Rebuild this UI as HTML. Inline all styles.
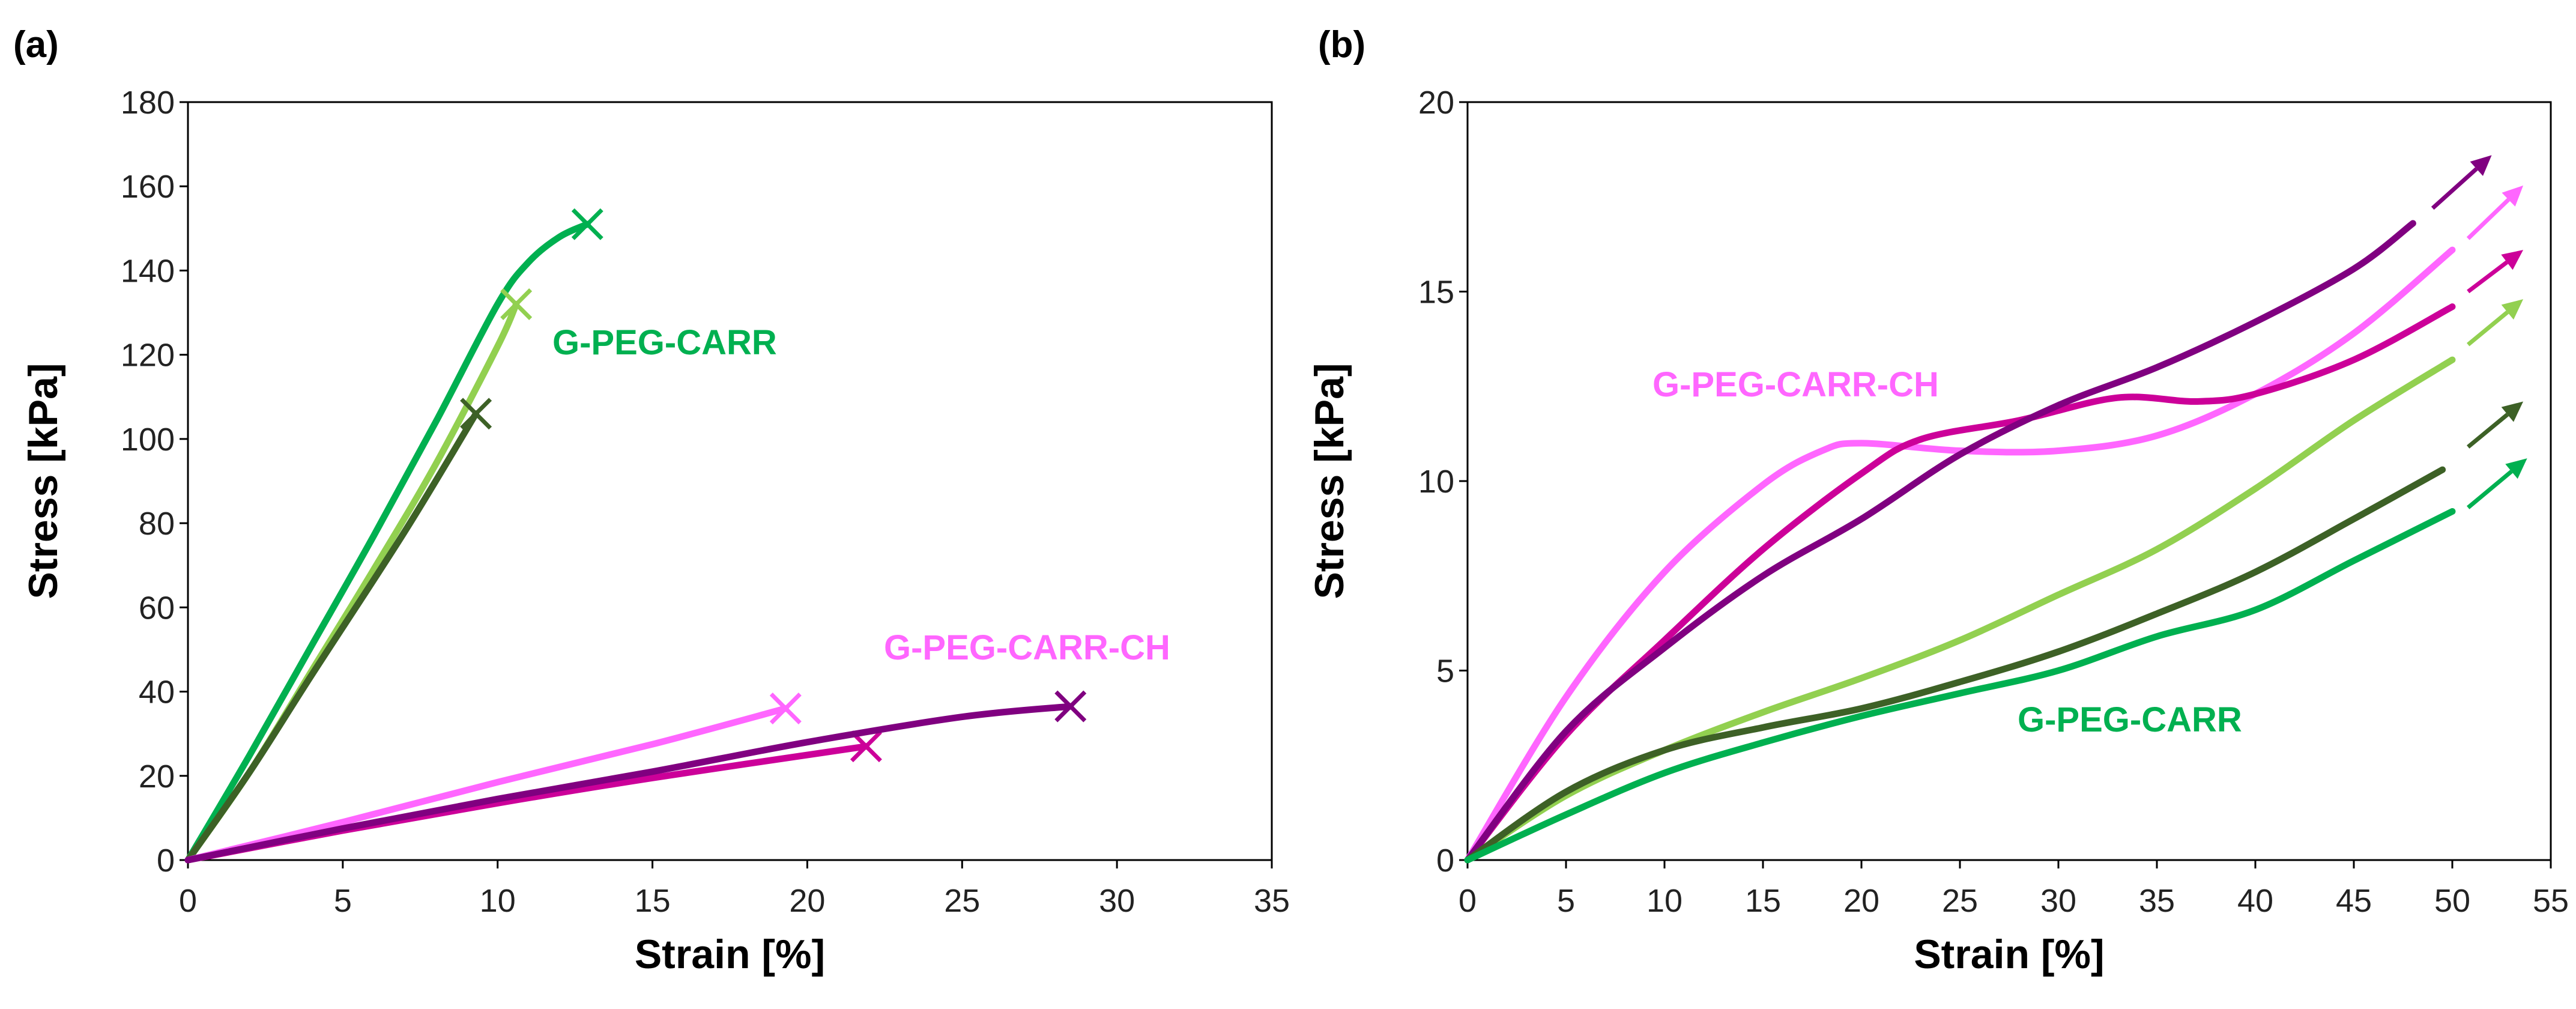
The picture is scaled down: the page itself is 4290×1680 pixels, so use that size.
<!DOCTYPE html>
<html><head><meta charset="utf-8"><style>
html,body{margin:0;padding:0;background:#fff;}
svg{display:block;font-family:"Liberation Sans",Arial,sans-serif;}
</style></head><body>
<svg id="fig" width="4290" height="1680" viewBox="0 0 4290 1680"></svg>
<script>
// ---- Panel (a) data ----
const aXTicks = [0,5,10,15,20,25,30,35];
const aYTicks = [0,20,40,60,80,100,120,140,160,180];
const aGreenX = [0,2,4,6,8,10,11,12,12.9];
const aGreenY = [0,25,51,77,104,132,142,148,151];
const aLightGreenX = [0,2,4,6,8,10,10.6];
const aLightGreenY = [0,21,45,69,94,122,132];
const aDarkGreenX = [0,2,4,7,9.3];
const aDarkGreenY = [0,21,44,78,106];
const aPinkX = [0,5,10,15,19.3];
const aPinkY = [0,9,18.5,27.5,36];
const aMagentaX = [0,5,10,15,21.9];
const aMagentaY = [0,7,13.5,19.5,27];
const aPurpleX = [0,5,10,15,20,25,28.5];
const aPurpleY = [0,7.5,14.5,21,28,34,36.5];
// ---- Panel (b) data ----
const bXTicks = [0,5,10,15,20,25,30,35,40,45,50,55];
const bYTicks = [0,5,10,15,20];
const bPinkX = [0,5,10,15,18,20,25,30,35,40,45,50];
const bPinkY = [0,4.3,7.6,9.9,10.8,11,10.8,10.8,11.2,12.3,13.9,16.1];
const bMagentaX = [0,5,10,15,20,23,28,33,37,40,45,50];
const bMagentaY = [0,3.3,5.8,8.2,10.2,11.1,11.6,12.2,12.1,12.3,13.2,14.6];
const bPurpleX = [0,5,10,15,20,25,30,35,40,45,48];
const bPurpleY = [0,3.4,5.6,7.5,9,10.7,12,13,14.2,15.6,16.8];
const bLightGreenX = [0,5,10,15,20,25,30,35,40,45,50];
const bLightGreenY = [0,1.7,2.9,3.9,4.8,5.8,7,8.2,9.8,11.6,13.2];
const bDarkGreenX = [0,5,10,15,20,25,30,35,40,45,49.5];
const bDarkGreenY = [0,1.8,2.9,3.5,4,4.7,5.5,6.5,7.6,9,10.3];
const bGreenX = [0,5,10,15,20,25,30,35,40,45,50];
const bGreenY = [0,1.2,2.3,3.1,3.8,4.4,5,5.9,6.6,7.9,9.2];
const bArrowX0 = [49,50.8,50.8,50.8,50.8,50.8];
const bArrowY0 = [17.2,16.4,15.0,13.6,10.9,9.3];
const bArrowX1 = [52,53.6,53.6,53.6,53.6,53.8];
const bArrowY1 = [18.6,17.8,16.1,14.8,12.1,10.6];

const C = {green:'#00b050', light:'#92d050', dark:'#3d6126', pink:'#ff66ff', mag:'#cc0099', purple:'#800080'};
const NS='http://www.w3.org/2000/svg';
const svg=document.getElementById('fig');
function mk(tag, attrs, parent){const e=document.createElementNS(NS,tag);for(const k in attrs)e.setAttribute(k,attrs[k]);(parent||svg).appendChild(e);return e;}
function smooth(pts){
  let d='M'+pts[0][0].toFixed(1)+' '+pts[0][1].toFixed(1);
  for(let i=0;i<pts.length-1;i++){
    const p0=pts[Math.max(0,i-1)],p1=pts[i],p2=pts[i+1],p3=pts[Math.min(pts.length-1,i+2)];
    const c1=[p1[0]+(p2[0]-p0[0])/6,p1[1]+(p2[1]-p0[1])/6];
    const c2=[p2[0]-(p3[0]-p1[0])/6,p2[1]-(p3[1]-p1[1])/6];
    d+=` C${c1[0].toFixed(1)} ${c1[1].toFixed(1)} ${c2[0].toFixed(1)} ${c2[1].toFixed(1)} ${p2[0].toFixed(1)} ${p2[1].toFixed(1)}`;
  }
  return d;
}

function panel(P){
  const g=mk('g',{});
  
  
  const sx=v=>P.L+(v-P.xmin)/(P.xmax-P.xmin)*(P.R-P.L);
  const sy=v=>P.B-(v-P.ymin)/(P.ymax-P.ymin)*(P.B-P.T);
  const frame=mk('rect',{x:P.L,y:P.T,width:P.R-P.L,height:P.B-P.T,fill:'none',stroke:'#000','stroke-width':3},g);
  
  
  P.xt.forEach(t=>{
    mk('line',{x1:sx(t),x2:sx(t),y1:P.B,y2:P.B+14,stroke:'#000','stroke-width':3},g);
    const tx=mk('text',{x:sx(t),y:P.B+86,'font-size':54,'text-anchor':'middle',fill:'#222'},g);
    tx.textContent=t;
    
    
  });
  P.yt.forEach(t=>{
    mk('line',{x1:P.L-14,x2:P.L,y1:sy(t),y2:sy(t),stroke:'#000','stroke-width':3},g);
    const tx=mk('text',{x:P.L-22,y:sy(t)+19,'font-size':54,'text-anchor':'end',fill:'#222'},g);
    tx.textContent=t;
    
    
  });
  const xt=mk('text',{x:(P.L+P.R)/2,y:1612,'font-size':68,'font-weight':'bold','text-anchor':'middle'},g);
  xt.textContent='Strain [%]';
  
  
  const yt=mk('text',{x:0,y:0,'font-size':68,'font-weight':'bold','text-anchor':'middle',transform:`translate(${P.ytx},${(P.T+P.B)/2}) rotate(-90)`},g);
  yt.textContent='Stress [kPa]';
  
  
  const pl=mk('text',{x:P.labx,y:95,'font-size':62,'font-weight':'bold'},g);
  pl.textContent=P.label;
  
  
  P.series.forEach(s=>{
    const pts=s.x.map((v,i)=>[sx(v),sy(s.y[i])]);
    const p=mk('path',{d:smooth(pts),fill:'none',stroke:s.c,'stroke-width':11,'stroke-linejoin':'round','stroke-linecap':'round'},g);
    
    
    if(s.marker){
      const X=sx(s.x[s.x.length-1]),Y=sy(s.y[s.y.length-1]),r=24;
      const m=mk('path',{d:`M${X-r} ${Y-r}L${X+r} ${Y+r}M${X-r} ${Y+r}L${X+r} ${Y-r}`,stroke:s.c,'stroke-width':7,fill:'none'},g);
      
      
    }
  });
  (P.arrows||[]).forEach(a=>{
    const x0=sx(a.x0),y0=sy(a.y0),x1=sx(a.x1),y1=sy(a.y1);
    const ang=Math.atan2(y1-y0,x1-x0),h=34,w=16;
    const bx=x1-h*Math.cos(ang),by=y1-h*Math.sin(ang);
    const ar=mk('g',{},g);
    
    
    mk('line',{x1:x0,y1:y0,x2:bx,y2:by,stroke:a.c,'stroke-width':7},ar);
    mk('polygon',{points:`${x1},${y1} ${bx-w*Math.sin(ang)},${by+w*Math.cos(ang)} ${bx+w*Math.sin(ang)},${by-w*Math.cos(ang)}`,fill:a.c},ar);
  });
  P.notes.forEach(nt=>{
    const t=mk('text',{x:nt.x,y:nt.y,'font-size':58,'font-weight':'bold',fill:nt.c},g);
    t.textContent=nt.t;
    
    
  });
}

panel({name:'panel-a',L:313,R:2118,T:170,B:1432,xmin:0,xmax:35,ymin:0,ymax:180,xt:aXTicks,yt:aYTicks,ytx:95,labx:22,label:'(a)',
  series:[
    {n:'a-green-curve',x:aGreenX,y:aGreenY,c:C.green,marker:1},
    {n:'a-lightgreen-curve',x:aLightGreenX,y:aLightGreenY,c:C.light,marker:1},
    {n:'a-darkgreen-curve',x:aDarkGreenX,y:aDarkGreenY,c:C.dark,marker:1},
    {n:'a-pink-curve',x:aPinkX,y:aPinkY,c:C.pink,marker:1},
    {n:'a-magenta-curve',x:aMagentaX,y:aMagentaY,c:C.mag,marker:1},
    {n:'a-purple-curve',x:aPurpleX,y:aPurpleY,c:C.purple,marker:1}],
  notes:[{t:'G-PEG-CARR',x:920,y:590,c:C.green,n:'g-peg-carr-label'},{t:'G-PEG-CARR-CH',x:1472,y:1098,c:C.pink,n:'g-peg-carr-ch-label'}]});

const arrowColors=[C.purple,C.pink,C.mag,C.light,C.dark,C.green];
panel({name:'panel-b',L:2444,R:4248,T:170,B:1432,xmin:0,xmax:55,ymin:0,ymax:20,xt:bXTicks,yt:bYTicks,ytx:2237,labx:2195,label:'(b)',
  series:[
    {n:'b-pink-curve',x:bPinkX,y:bPinkY,c:C.pink},
    {n:'b-magenta-curve',x:bMagentaX,y:bMagentaY,c:C.mag},
    {n:'b-purple-curve',x:bPurpleX,y:bPurpleY,c:C.purple},
    {n:'b-lightgreen-curve',x:bLightGreenX,y:bLightGreenY,c:C.light},
    {n:'b-darkgreen-curve',x:bDarkGreenX,y:bDarkGreenY,c:C.dark},
    {n:'b-green-curve',x:bGreenX,y:bGreenY,c:C.green}],
  arrows:bArrowX0.map((v,i)=>({x0:v,y0:bArrowY0[i],x1:bArrowX1[i],y1:bArrowY1[i],c:arrowColors[i]})),
  notes:[{t:'G-PEG-CARR-CH',x:2752,y:660,c:C.pink,n:'g-peg-carr-ch-label'},{t:'G-PEG-CARR',x:3360,y:1218,c:C.green,n:'g-peg-carr-label'}]});
</script>
</body></html>
